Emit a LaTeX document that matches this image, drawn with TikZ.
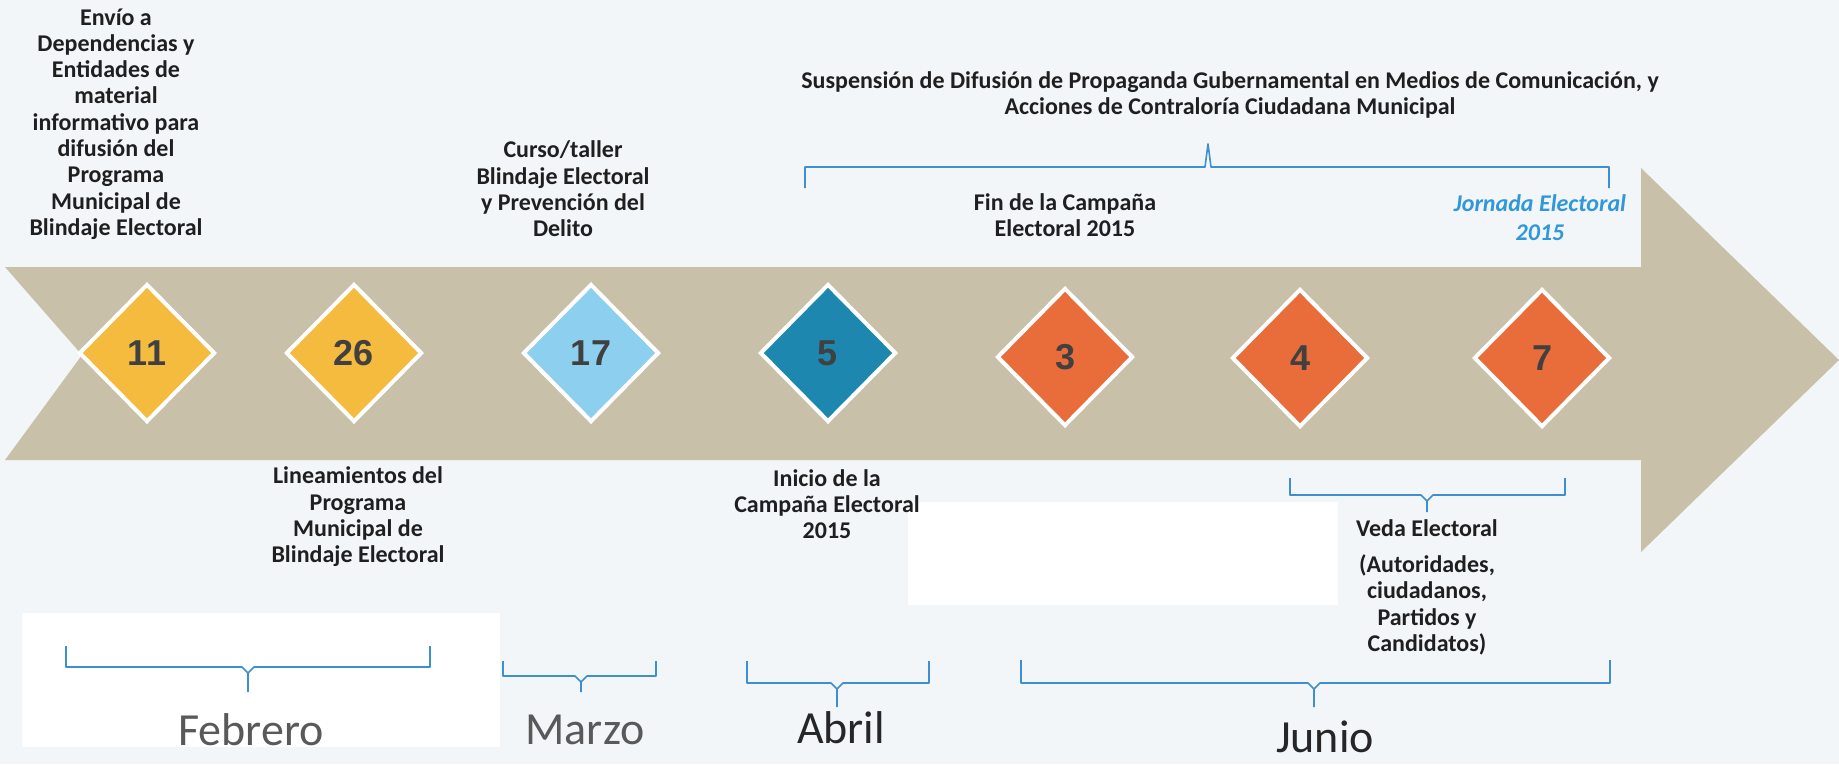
\documentclass[tikz,border=0pt]{standalone}
\usepackage{fontspec}
\setmainfont{Carlito}
\newfontfamily\digitfont{Liberation Sans}
\usetikzlibrary{shapes.geometric}
\definecolor{paper}{HTML}{F3F6F9}
\definecolor{band}{HTML}{C8C0A8}
\definecolor{gold}{HTML}{F5BB3E}
\definecolor{sky}{HTML}{8DCFEF}
\definecolor{teal}{HTML}{1D87AF}
\definecolor{rust}{HTML}{E96C3B}
\definecolor{braceblue}{HTML}{3D8FD2}
\definecolor{jornada}{HTML}{2F97DA}

\begin{document}
\begin{tikzpicture}[x=1pt,y=-1pt,
  day/.style={diamond,draw=white,line width=4pt,minimum width=136pt,minimum height=138pt,inner sep=0pt,text=black!75,font=\digitfont\bfseries\fontsize{36}{36}\selectfont},
  event/.style={align=center,text=black!88,font=\bfseries\fontsize{24}{26.3}\selectfont},
  month/.style={text=black!65,font=\fontsize{46}{46}\selectfont},
  brace/.style={draw=braceblue,line width=1.6pt,line join=round}]
\useasboundingbox (0,0) rectangle (1839,764);
\fill[paper] (0,0) rectangle (1839,764);
\fill[white] (22,613) rectangle (500,747);
\fill[white] (908,502) rectangle (1338,605);
\fill[band] (5,267) -- (1641,267) -- (1641,168) -- (1839,360) -- (1641,552) -- (1641,460) -- (5,460) -- (82,355) -- cycle;

\node[day,fill=gold] (d11) at (147,353) {11};
\node[day,fill=gold] (d26) at (354,353) {26};
\node[day,fill=sky] (d17) at (591,353) {17};
\node[day,fill=teal] (d5) at (828,353) {5};
\node[day,fill=rust] (d3) at (1065,357) {3};
\node[day,fill=rust] (d4) at (1300,358) {4};
\node[day,fill=rust] (d7) at (1542,358) {7};

\node[event] (envio) at (116,124) {Envío a\\Dependencias y\\Entidades de\\material\\informativo para\\difusión del\\Programa\\Municipal de\\Blindaje Electoral};
\node[event] (curso) at (563,189) {Curso/taller\\Blindaje Electoral\\y Prevención del\\Delito};
\node[event] (lineamientos) at (358,517) {Lineamientos del\\Programa\\Municipal de\\Blindaje Electoral};
\node[event] (inicio) at (827,504) {Inicio de la\\Campaña Electoral\\2015};
\node[event] (fin) at (1065,215) {Fin de la Campaña\\Electoral 2015};
\node[event,text=jornada,font=\bfseries\itshape\fontsize{24}{29}\selectfont] (jornada) at (1540,218) {Jornada Electoral\\2015};
\node[event] (suspension) at (1230,95) {Suspensión de Difusión de Propaganda Gubernamental en Medios de Comunicación, y\\Acciones de Contraloría Ciudadana Municipal};
\node[event] (veda) at (1427,528) {Veda Electoral};
\node[event] (actores) at (1427,605) {(Autoridades,\\ciudadanos,\\Partidos y\\Candidatos)};

\node[month] (febrero) at (251,730) {Febrero};
\node[month] (marzo) at (585,730) {Marzo};
\node[month,text=black!85] (abril) at (841,728) {Abril};
\node[month,text=black!85] (junio) at (1325,737) {Junio};

\draw[brace] (805,188) -- (805,167) -- (1205,167) -- (1208,144) -- (1211,167) -- (1609,167) -- (1609,188);
\draw[brace] (1290,478) -- (1290,495) -- (1421,495) -- (1427,501) -- (1433,495) -- (1565,495) -- (1565,478) (1427,501) -- (1427,512);
\draw[brace] (66,646) -- (66,667) -- (242,667) -- (248,673) -- (254,667) -- (430,667) -- (430,646) (248,673) -- (248,692);
\draw[brace] (503,661) -- (503,676) -- (575,676) -- (581,682) -- (587,676) -- (656,676) -- (656,661) (581,682) -- (581,692);
\draw[brace] (747,661) -- (747,683) -- (831,683) -- (837,689) -- (843,683) -- (929,683) -- (929,661) (837,689) -- (837,707);
\draw[brace] (1021,660) -- (1021,683) -- (1308,683) -- (1314,689) -- (1320,683) -- (1610,683) -- (1610,660) (1314,689) -- (1314,707);
\end{tikzpicture}
\end{document}
